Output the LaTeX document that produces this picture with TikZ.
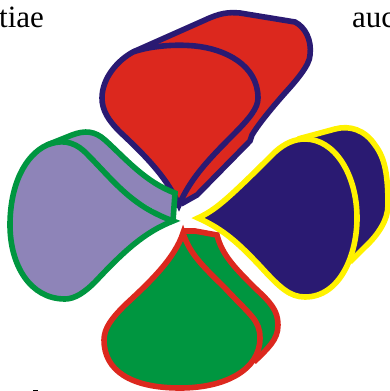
\documentclass[tikz,border=0pt]{standalone}
\usepackage{fontspec}
\setmainfont{Liberation Serif}
\definecolor{rd}{HTML}{DC281E}
\definecolor{nv}{HTML}{2A1A72}
\definecolor{gn}{HTML}{009640}
\definecolor{pu}{HTML}{8E84B8}
\definecolor{yl}{HTML}{FFF200}
\tikzset{x=1pt,y=-1pt,
 lobe/.style={line width=5.6pt,line join=miter,miter limit=8},
 word/.style={inner sep=0pt,anchor=base west,font=\fontsize{31}{31}\selectfont}}
\begin{document}
\begin{tikzpicture}
\useasboundingbox (0,0) rectangle (390,391);
\clip (0,0) rectangle (390,391);
\node[word] (w1) at (-1,27) {tiae};
\node[word] (w2) at (352,27) {auc};
\fill (33,389.8) rectangle (38,391);
% red petal
\draw[lobe,draw=nv,fill=rd] (133,52) -- (205,20) .. controls (220,13) and (228,12) .. (240,13) -- (295,22) .. controls (305,27) and (312,40) .. (310,55) .. controls (310,65) and (295,82) .. (285,93) .. controls (270,110) and (258,125) .. (252,135) -- (250,141) -- (197,195) -- (181,204);
\draw[lobe,draw=nv,fill=rd] (179,205) .. controls (168,180) and (150,160) .. (120,132) .. controls (108,120) and (102,110) .. (102,98) .. controls (102,78) and (118,60) .. (133,52) .. controls (150,46) and (175,44) .. (195,46) .. controls (225,49) and (258,65) .. (258,98) .. controls (258,108) and (250,118) .. (232,136) .. controls (205,163) and (190,180) .. (179,205) -- cycle;
% purple petal
\draw[lobe,draw=gn,fill=pu] (47,145) -- (72,135) .. controls (85,130) and (95,131) .. (105,140) .. controls (125,158) and (145,182) .. (175,193) -- (173,221);
\draw[lobe,draw=gn,fill=pu] (173,221) .. controls (145,232) and (125,250) .. (95,282) .. controls (85,292) and (75,299) .. (65,299) .. controls (30,299) and (10,265) .. (10,225) .. controls (10,185) and (25,155) .. (47,145) .. controls (60,140) and (72,140) .. (85,152) .. controls (115,182) and (130,205) .. (173,221) -- cycle;
% navy petal
\draw[lobe,draw=yl,fill=nv] (298,139) -- (335,129) .. controls (350,125) and (365,130) .. (375,145) .. controls (385,158) and (388,175) .. (388,205) .. controls (388,220) and (378,235) .. (365,247) -- (350,262);
\draw[lobe,draw=yl,fill=nv] (198,218) .. controls (215,210) and (225,202) .. (275,152) .. controls (285,143) and (295,139) .. (305,139) .. controls (335,139) and (357,175) .. (357,218) .. controls (357,255) and (340,297) .. (305,297) .. controls (290,297) and (280,288) .. (260,266) .. controls (240,245) and (225,230) .. (198,218) -- cycle;
% green petal
\draw[lobe,draw=rd,fill=gn] (182,231) -- (195,231) -- (217,235) .. controls (222,255) and (235,268) .. (255,288) .. controls (270,302) and (278,310) .. (278,325) .. controls (278,340) and (268,348) .. (254,362);
\draw[lobe,draw=rd,fill=gn] (183,233) .. controls (175,258) and (150,282) .. (125,305) .. controls (112,318) and (104,328) .. (104,340) .. controls (104,370) and (130,388) .. (180,388) .. controls (225,388) and (260,370) .. (260,338) .. controls (260,320) and (250,315) .. (225,288) .. controls (205,268) and (190,255) .. (183,233) -- cycle;
\end{tikzpicture}
\end{document}
